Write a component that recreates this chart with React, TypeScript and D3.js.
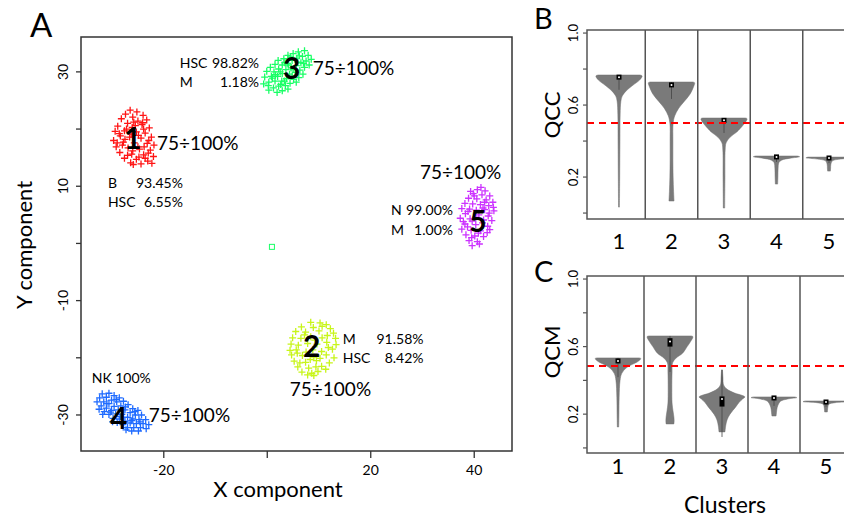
import React from "react";
import * as d3 from "d3";

const W = 844;
const H = 519;
const FONT = "Lato, 'Noto Sans', sans-serif";

// ---- panel A : cluster scatter (X component, Y component) ----
const cluster1: [number, number][] = [
  [-26.5, 23.3], [-25.2, 23.0], [-27.4, 22.6], [-24.0, 22.4], [-26.0, 22.1], [-28.2, 21.8], [-23.3, 21.6],
  [-25.0, 21.4], [-27.0, 21.0], [-24.2, 20.8], [-28.9, 20.5], [-26.1, 20.3], [-22.8, 20.2], [-29.4, 19.6],
  [-27.6, 19.7], [-25.3, 19.5], [-23.6, 19.3], [-28.4, 18.8], [-26.6, 18.6], [-24.4, 18.4], [-22.4, 18.6],
  [-29.7, 18.0], [-27.8, 17.7], [-25.7, 17.6], [-23.2, 17.5], [-21.9, 17.2], [-29.2, 16.9], [-26.9, 16.7],
  [-24.7, 16.5], [-22.6, 16.3], [-28.5, 15.9], [-26.2, 15.6], [-23.9, 15.5], [-22.0, 15.2], [-27.6, 14.9],
  [-25.3, 14.7], [-23.1, 14.4], [-26.4, 14.1], [-24.4, 13.9], [-22.3, 14.0], [-27.2, 20.0], [-25.8, 21.2],
  [-24.9, 18.9], [-28.0, 17.2], [-23.8, 16.9], [-26.0, 16.2], [-27.0, 15.4], [-24.8, 15.1], [-22.9, 18.0],
  [-29.0, 17.6], [-25.5, 20.6], [-23.9, 20.0], [-27.5, 18.2], [-26.3, 19.1], [-25.0, 16.9], [-28.6, 19.2],
  [-24.1, 21.1], [-23.0, 15.8], [-25.9, 13.8], [-23.6, 14.9],
];
const cluster2: [number, number][] = [
  [8.4, -13.8], [10.2, -13.9], [11.4, -14.2], [6.6, -14.6], [8.9, -14.7], [12.2, -14.9], [5.5, -15.4],
  [7.4, -15.5], [10.0, -15.3], [12.8, -15.7], [4.9, -16.5], [6.5, -16.6], [8.4, -16.3], [10.6, -16.5],
  [13.2, -16.6], [4.6, -17.6], [6.0, -17.8], [7.8, -17.5], [9.6, -17.6], [11.5, -17.3], [13.3, -17.7],
  [4.4, -18.7], [5.6, -18.6], [8.8, -18.6], [10.5, -18.9], [12.6, -18.5], [4.7, -19.5], [6.8, -19.6],
  [9.0, -19.9], [11.4, -19.5], [12.9, -20.0], [5.2, -20.6], [7.4, -20.8], [9.5, -20.5], [12.0, -20.9],
  [5.9, -21.6], [8.0, -21.8], [10.5, -21.5], [11.3, -22.0], [6.7, -22.5], [8.6, -22.7], [9.8, -22.4],
  [7.8, -23.0], [9.0, -23.1], [7.2, -16.0], [9.2, -16.9], [11.6, -16.1], [5.8, -19.2], [10.2, -20.1],
  [7.5, -19.0], [11.8, -18.2], [8.3, -20.3], [6.3, -20.9], [10.6, -14.5], [9.4, -21.6],
];
const cluster3: [number, number][] = [
  [-0.7, 27.9], [0.3, 26.8], [-0.5, 29.1], [0.3, 28.2], [1.2, 27.2], [1.9, 26.4], [-0.1, 30.1], [0.8, 29.2],
  [1.5, 28.4], [2.2, 27.5], [2.9, 26.7], [0.6, 30.8], [1.3, 30.0], [2.0, 29.2], [2.8, 28.4], [3.5, 27.6],
  [4.0, 27.0], [1.5, 31.3], [2.2, 30.5], [2.9, 29.7], [3.7, 28.8], [4.4, 28.0], [2.1, 32.0], [2.9, 31.2],
  [3.6, 30.4], [4.3, 29.6], [5.1, 28.7], [5.6, 28.2], [3.2, 32.3], [3.9, 31.5], [4.6, 30.7], [5.4, 29.9],
  [6.1, 29.0], [4.0, 32.9], [4.8, 32.0], [5.6, 31.1], [6.3, 30.3], [6.9, 29.6], [5.0, 33.2], [5.7, 32.4],
  [6.5, 31.6], [7.2, 30.8], [6.0, 33.5], [6.8, 32.7], [7.5, 31.9], [8.1, 31.2], [7.2, 33.7], [7.9, 32.9],
  [8.5, 32.2], [1.0, 28.9], [2.5, 30.0], [3.3, 28.4], [4.1, 31.2], [5.0, 30.4], [6.2, 32.8], [0.2, 27.6],
  [2.6, 27.8], [5.9, 31.7], [3.4, 31.6], [7.0, 31.5], [4.8, 29.2], [1.6, 29.5], [4.5, 32.6],
];
const cluster4: [number, number][] = [
  [-31.9, -26.3], [-32.4, -27.0], [-32.9, -27.7], [-30.6, -26.2], [-31.1, -26.9], [-31.6, -27.7],
  [-32.1, -28.4], [-32.5, -29.0], [-29.6, -26.6], [-30.1, -27.4], [-30.6, -28.0], [-31.1, -28.8],
  [-31.5, -29.4], [-28.6, -27.0], [-29.1, -27.7], [-29.6, -28.5], [-30.1, -29.2], [-30.6, -29.9],
  [-27.8, -27.6], [-28.3, -28.4], [-28.8, -29.1], [-29.3, -29.8], [-29.8, -30.6], [-26.9, -28.2],
  [-27.5, -29.1], [-28.1, -29.9], [-28.6, -30.7], [-29.0, -31.3], [-26.0, -28.9], [-26.5, -29.6],
  [-27.0, -30.4], [-27.5, -31.1], [-27.9, -31.7], [-25.0, -29.2], [-25.5, -30.0], [-26.0, -30.7],
  [-26.5, -31.4], [-27.0, -32.2], [-24.3, -30.0], [-24.8, -30.8], [-25.3, -31.5], [-25.8, -32.2],
  [-26.2, -32.8], [-23.5, -30.8], [-24.0, -31.5], [-24.5, -32.2], [-24.9, -32.8], [-22.9, -31.7],
  [-23.4, -32.4], [-31.0, -28.0], [-29.2, -27.3], [-27.4, -28.6], [-26.2, -31.0], [-28.4, -30.3],
  [-25.6, -29.4], [-24.6, -31.2], [-30.3, -29.5], [-31.8, -29.9], [-29.9, -31.2], [-27.3, -32.6],
];
const cluster5: [number, number][] = [
  [41.3, 9.8], [40.6, 9.4], [42.1, 9.2], [39.8, 8.7], [41.5, 8.5], [43.0, 8.3], [38.9, 7.9], [40.5, 7.8],
  [42.3, 7.6], [43.6, 7.2], [38.2, 7.0], [39.7, 6.9], [41.2, 6.8], [42.8, 6.6], [37.6, 6.1], [39.1, 6.0],
  [40.4, 5.8], [42.0, 5.9], [43.8, 5.7], [38.3, 5.2], [40.9, 5.0], [42.7, 4.8], [37.3, 4.4], [39.2, 4.3],
  [41.8, 4.1], [43.4, 4.0], [38.2, 3.4], [40.3, 3.3], [42.6, 3.0], [37.6, 2.5], [39.4, 2.3], [41.2, 2.2],
  [43.0, 2.4], [38.4, 1.5], [40.1, 1.3], [41.8, 1.2], [39.0, 0.5], [40.6, 0.3], [39.6, -0.4], [41.0, -0.1],
  [42.0, 7.2], [38.8, 5.6], [41.6, 3.6], [39.6, 3.9], [40.0, 8.3], [42.9, 5.3], [38.7, 2.9], [40.8, 1.8],
  [37.9, 3.8], [41.7, 6.2], [39.5, 1.0], [42.5, 1.9], [39.3, 9.1], [43.7, 6.3], [40.3, 4.6],
];
const clusterPoints = [cluster1, cluster2, cluster3, cluster4, cluster5];
const clusterColors = ["#ff1414", "#c8f51a", "#19ff66", "#1f6bff", "#cc33ff"];
const strayPoint: [number, number] = [0.9, -0.6];

const xTicksA = [-20, 0, 20, 40];
const xTickLabelsA = ["-20", "", "20", "40"];
const yTicksA = [30, 20, 10, 0, -10, -20, -30];
const yTickLabelsA = ["30", "", "10", "", "-10", "", "-30"];

// annotations (cluster id, coverage, composition)
const clusterIds = ["1", "2", "3", "4", "5"];
const idPos: [number, number][] = [[-26.0, 18.6], [8.6, -17.8], [4.7, 30.9], [-28.7, -30.4], [40.7, 4.1]];
const coverageText = "75÷100%";
const coveragePos: [number, number][] = [[-21.3, 17.6], [4.35, -25.3], [8.8, 30.7], [-22.9, -30.0], [29.5, 12.5]];
const compNames = [["B", "HSC"], ["M", "HSC"], ["HSC", "M"], ["NK"], ["N", "M"]];
const compPcts = [["93.45%", "6.55%"], ["91.58%", "8.42%"], ["98.82%", "1.18%"], ["100%"], ["99.00%", "1.00%"]];
// [x start, x end, y of first row, y of second row]
const compPos = [
  [-30.8, -16.3, 10.6, 7.25],
  [14.6, 30.2, -16.7, -20.0],
  [-16.9, -1.6, 31.6, 28.25],
  [-33.9, -22.5, -23.5, 0],
  [23.9, 35.9, 6.0, 2.5],
];

// ---- panels B, C : violins per cluster ----
const clusters = [1, 2, 3, 4, 5];
// [value, relative density]
const qccProfiles: [number, number][][] = [
  [[0.767, 0.9], [0.762, 1.0], [0.74, 0.9], [0.71, 0.6], [0.68, 0.32], [0.65, 0.14], [0.62, 0.08], [0.55, 0.05], [0.4, 0.04], [0.2, 0.03], [0.033, 0.02]],
  [[0.728, 0.92], [0.724, 1.0], [0.7, 0.95], [0.66, 0.8], [0.62, 0.55], [0.58, 0.3], [0.54, 0.14], [0.5, 0.07], [0.4, 0.06], [0.3, 0.06], [0.2, 0.07], [0.12, 0.09], [0.067, 0.11]],
  [[0.528, 0.92], [0.524, 1.0], [0.5, 0.9], [0.47, 0.7], [0.45, 0.55], [0.42, 0.25], [0.39, 0.09], [0.35, 0.05], [0.2, 0.04], [0.028, 0.03]],
  [[0.317, 0.9], [0.313, 1.0], [0.305, 0.6], [0.294, 0.22], [0.28, 0.1], [0.25, 0.07], [0.2, 0.06], [0.161, 0.05]],
  [[0.311, 0.9], [0.307, 1.0], [0.3, 0.5], [0.29, 0.15], [0.27, 0.08], [0.25, 0.07], [0.233, 0.06]],
];
const qcmProfiles: [number, number][][] = [
  [[0.533, 0.92], [0.529, 1.0], [0.51, 0.85], [0.49, 0.55], [0.473, 0.35], [0.44, 0.16], [0.4, 0.09], [0.3, 0.05], [0.2, 0.04], [0.124, 0.03]],
  [[0.663, 0.92], [0.659, 1.0], [0.63, 0.9], [0.6, 0.75], [0.562, 0.56], [0.53, 0.25], [0.503, 0.11], [0.45, 0.09], [0.35, 0.08], [0.266, 0.09], [0.22, 0.13], [0.183, 0.17], [0.16, 0.18], [0.142, 0.17]],
  [[0.462, 0.02], [0.42, 0.04], [0.373, 0.07], [0.35, 0.2], [0.325, 0.55], [0.31, 0.9], [0.302, 1.0], [0.29, 0.9], [0.27, 0.75], [0.243, 0.6], [0.2, 0.35], [0.166, 0.22], [0.13, 0.16], [0.095, 0.13]],
  [[0.302, 0.9], [0.298, 1.0], [0.29, 0.6], [0.278, 0.3], [0.266, 0.22], [0.24, 0.14], [0.2, 0.1], [0.189, 0.09]],
  [[0.278, 0.9], [0.274, 1.0], [0.268, 0.4], [0.258, 0.12], [0.24, 0.08], [0.213, 0.06]],
];
// [q1, median, q3]
const qccQuartiles = [[0.745, 0.755, 0.765], [0.7, 0.712, 0.722], [0.505, 0.515, 0.525], [0.308, 0.312, 0.316], [0.302, 0.306, 0.31]];
const qcmQuartiles = [[0.5, 0.515, 0.527], [0.6, 0.63, 0.65], [0.245, 0.29, 0.305], [0.288, 0.296, 0.301], [0.268, 0.272, 0.276]];
const qccThreshold = 0.5;
const qcmThreshold = 0.485;
const vTicks = [0, 0.2, 0.4, 0.6, 0.8, 1.0];
const vTickLabels = ["", "0.2", "", "0.6", "", "1.0"];

const Plus = ({ x, y, color }: { x: number; y: number; color: string }) => (
  <path d={`M${x - 3.5},${y}H${x + 3.5}M${x},${y - 3.5}V${y + 3.5}`} stroke={color} strokeWidth={1.3} />
);

function ScatterPanel() {
  const x = d3.scaleLinear().domain([-36, 47.3]).range([81, 512]);
  const y = d3.scaleLinear().domain([-36.3, 36.1]).range([451, 37]);
  const [x0, x1] = x.range();
  const [y0, y1] = y.range();
  return (
    <g fontFamily={FONT}>
      <text x={30} y={37} fontSize={33}>A</text>
      {clusterPoints.map((pts, ci) =>
        pts.map((p, i) => <Plus key={`${ci}-${i}`} x={x(p[0])} y={y(p[1])} color={clusterColors[ci]} />)
      )}
      <rect x={x(strayPoint[0]) - 2.5} y={y(strayPoint[1]) - 2.5} width={5} height={5} fill="none" stroke="#19ff66" strokeWidth={1} />
      <rect x={x0} y={y1} width={x1 - x0} height={y0 - y1} fill="none" stroke="#333" strokeWidth={1.5} />
      {xTicksA.map((t, i) => (
        <g key={t} transform={`translate(${x(t)},${y0})`}>
          <line y2={7} stroke="#333" strokeWidth={1.3} />
          <text y={18} fontSize={14} textAnchor="middle" dominantBaseline="central">{xTickLabelsA[i]}</text>
        </g>
      ))}
      {yTicksA.map((t, i) => (
        <g key={t} transform={`translate(${x0},${y(t)})`}>
          <line x2={-5} stroke="#333" strokeWidth={1.3} />
          <text transform="translate(-19,0) rotate(-90)" fontSize={14} textAnchor="middle" dominantBaseline="central">
            {yTickLabelsA[i]}
          </text>
        </g>
      ))}
      <text x={278} y={488} fontSize={22} textAnchor="middle" dominantBaseline="central">X component</text>
      <text transform="translate(23,245) rotate(-90)" fontSize={22} textAnchor="middle" dominantBaseline="central">
        Y component
      </text>
      {clusterIds.map((id, i) => (
        <g key={id}>
          <text x={x(idPos[i][0])} y={y(idPos[i][1])} fontSize={30} fontWeight={700} textAnchor="middle" dominantBaseline="central">
            {id}
          </text>
          <text x={x(coveragePos[i][0])} y={y(coveragePos[i][1])} fontSize={19} dominantBaseline="central">
            {coverageText}
          </text>
          {compNames[i].map((nm, r) => (
            <g key={nm}>
              <text x={x(compPos[i][0])} y={y(compPos[i][2 + r])} fontSize={14} dominantBaseline="central">{nm}</text>
              <text x={x(compPos[i][1])} y={y(compPos[i][2 + r])} fontSize={14} textAnchor="end" dominantBaseline="central">
                {compPcts[i][r]}
              </text>
            </g>
          ))}
        </g>
      ))}
    </g>
  );
}

type ViolinProps = {
  x: d3.ScaleLinear<number, number>;
  y: d3.ScaleLinear<number, number>;
  profiles: [number, number][][];
  quartiles: number[][];
  threshold: number;
  title: string;
  letter: string;
  letterY: number;
  titleY: number;
  labelY: number;
};

function ViolinPanel({ x, y, profiles, quartiles, threshold, title, letter, letterY, titleY, labelY }: ViolinProps) {
  const left = 587;
  const right = x(5.62);
  const [yb, yt] = y.range();
  const hw = (x(2) - x(1)) * 0.44;
  return (
    <g fontFamily={FONT}>
      <text x={534} y={letterY} fontSize={29}>{letter}</text>
      {clusters.map((c, i) => {
        const cx = x(c);
        const area = d3
          .area<[number, number]>()
          .curve(d3.curveCatmullRom)
          .y((d) => y(d[0]))
          .x0((d) => cx - hw * d[1])
          .x1((d) => cx + hw * d[1]);
        const [q1, med, q3] = quartiles[i];
        const prof = profiles[i];
        return (
          <g key={c}>
            <path d={area(prof) ?? ""} fill="#7a7a7a" stroke="#6e6e6e" strokeWidth={0.5} />
            <line x1={cx} x2={cx} y1={y(prof[0][0])} y2={y(q1 - (q3 - q1) * 3)} stroke="#444" strokeWidth={0.8} />
            <rect x={cx - 2.5} y={Math.min(y(q3), y(med) - 2.5)} width={5} height={Math.max(y(q1) - y(q3), 5)} fill="#000" />
            <circle cx={cx} cy={y(med)} r={1} fill="#fff" />
          </g>
        );
      })}
      <line x1={left} x2={right} y1={y(threshold)} y2={y(threshold)} stroke="#ff0000" strokeWidth={2} strokeDasharray="7,5" />
      {clusters.slice(0, 4).map((c) => (
        <line key={c} x1={x(c + 0.5)} x2={x(c + 0.5)} y1={yt} y2={yb} stroke="#555" strokeWidth={1.5} />
      ))}
      <rect x={left} y={yt} width={right - left} height={yb - yt} fill="none" stroke="#555" strokeWidth={1.5} />
      {vTicks.map((t, i) => (
        <g key={t} transform={`translate(${left},${y(t)})`}>
          <line x2={-4} stroke="#555" strokeWidth={1.2} />
          <text transform="translate(-14,0) rotate(-90)" fontSize={13} textAnchor="middle" dominantBaseline="central">
            {vTickLabels[i]}
          </text>
        </g>
      ))}
      {clusters.map((c) => (
        <text key={c} x={x(c)} y={labelY} fontSize={22} textAnchor="middle" dominantBaseline="central">{c}</text>
      ))}
      <text transform={`translate(551,${titleY}) rotate(-90)`} fontSize={22} textAnchor="middle" dominantBaseline="central">
        {title}
      </text>
    </g>
  );
}

export default function App() {
  const xB = d3.scaleLinear().domain([1, 5]).range([619, 829]);
  const yB = d3.scaleLinear().domain([-0.033, 1.017]).range([219, 30]);
  const xC = d3.scaleLinear().domain([1, 5]).range([618, 826]);
  const yC = d3.scaleLinear().domain([-0.03, 1.018]).range([453, 276]);
  return (
    <svg width={W} height={H} style={{ position: "absolute", left: 0, top: 0, background: "#fff" }}>
      <ScatterPanel />
      <ViolinPanel x={xB} y={yB} profiles={qccProfiles} quartiles={qccQuartiles} threshold={qccThreshold}
        title="QCC" letter="B" letterY={29} titleY={115} labelY={240} />
      <ViolinPanel x={xC} y={yC} profiles={qcmProfiles} quartiles={qcmQuartiles} threshold={qcmThreshold}
        title="QCM" letter="C" letterY={282} titleY={352} labelY={465} />
      <text x={725} y={504} fontSize={23} fontFamily={FONT} textAnchor="middle" dominantBaseline="central">Clusters</text>
    </svg>
  );
}
